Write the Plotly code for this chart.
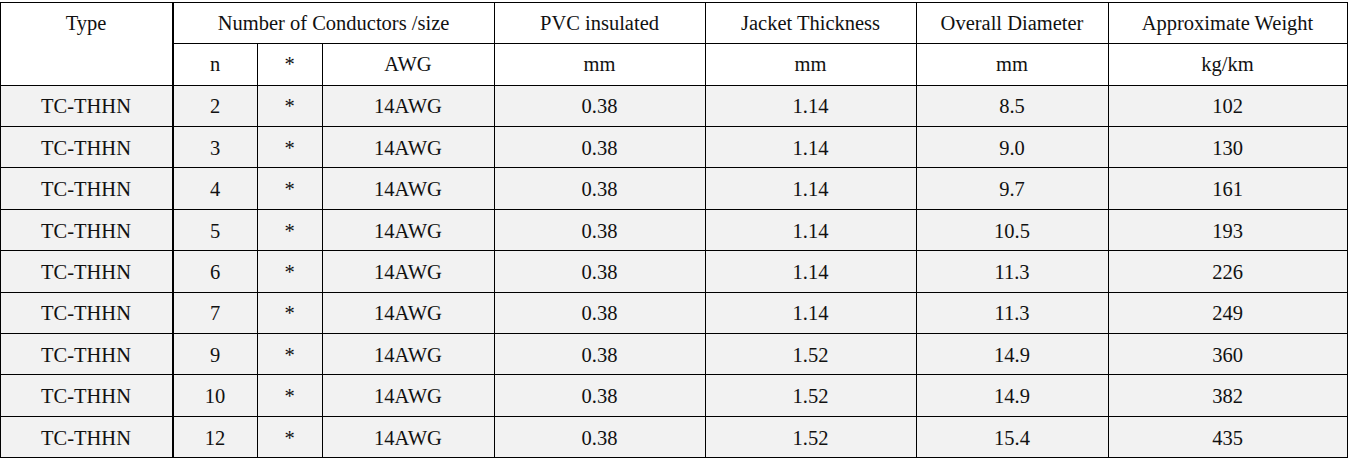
"""Cable specification table for TC-THHN 14AWG."""

import plotly.graph_objs as go

W, H = 1352, 458

cable_type = ['TC-THHN'] * 9
conductors = [2, 3, 4, 5, 6, 7, 9, 10, 12]
star = ['*'] * 9
awg = ['14AWG'] * 9
pvc_mm = [0.38] * 9
jacket_mm = [1.14, 1.14, 1.14, 1.14, 1.14, 1.14, 1.52, 1.52, 1.52]
diameter_mm = [8.5, 9.0, 9.7, 10.5, 11.3, 11.3, 14.9, 14.9, 15.4]
weight_kg_km = [102, 130, 161, 193, 226, 249, 360, 382, 435]

top_headers = ['Number of Conductors /size', 'PVC insulated', 'Jacket Thickness',
               'Overall Diameter', 'Approximate Weight']
sub_headers = ['n', '*', 'AWG', 'mm', 'mm', 'mm', 'kg/km']

FONT = dict(family='Liberation Serif, Times New Roman, serif', size=20.5, color='#111111')
LINE = dict(color='#000000', width=1)
CELL_BG = '#f2f2f2'
ROW_H = 41.4
LEFT, RIGHT = 173 / W, 1347 / W
TOP = 1 - 2 / H
MID = 1 - 43 / H

# table text sits near the top of each cell, nudge it down to the row middle;
# the page body also has a default 8px margin that has to go
POST_JS = """
document.body.style.margin = '0';
document.querySelectorAll('.cell-text').forEach(function (t) {
    var tr = t.getAttribute('transform') || '';
    t.setAttribute('transform', tr + ' translate(0,5)');
});
"""


def type_table():
    """First column, 'Type' header spans both header rows."""
    return go.Table(
        domain=dict(x=[0, LEFT], y=[0, TOP]),
        header=dict(values=['Type'], height=83, font=FONT, line=LINE,
                    fill_color='white', align='center'),
        cells=dict(values=[cable_type], height=ROW_H, font=FONT, line=LINE,
                   fill_color=CELL_BG, align='center'),
    )


def top_header_table():
    """Upper header row, conductor block merged across three columns."""
    return go.Table(
        domain=dict(x=[LEFT, RIGHT], y=[MID, TOP]),
        columnwidth=[321, 211, 211, 192, 239],
        header=dict(values=top_headers, height=41, font=FONT, line=LINE,
                    fill_color='white', align='center'),
        cells=dict(values=[[] for _ in top_headers], line=dict(width=0)),
    )


def body_table():
    """Units row plus the data rows."""
    return go.Table(
        domain=dict(x=[LEFT, RIGHT], y=[0, MID]),
        columnwidth=[84, 65, 172, 211, 211, 192, 239],
        header=dict(values=sub_headers, height=42, font=FONT, line=LINE,
                    fill_color='white', align='center'),
        cells=dict(values=[conductors, star, awg, pvc_mm, jacket_mm, diameter_mm, weight_kg_km],
                   format=['', '', '', '.2f', '.2f', '.1f', ''],
                   height=ROW_H, font=FONT, line=LINE, fill_color=CELL_BG, align='center'),
    )


def main():
    fig = go.Figure(data=[type_table(), top_header_table(), body_table()])
    fig.update_layout(width=W, height=H, margin=dict(l=0, r=0, t=0, b=0),
                      paper_bgcolor='white')
    fig.write_html('out.html', post_script=POST_JS, config={'displayModeBar': False})


if __name__ == '__main__':
    main()
